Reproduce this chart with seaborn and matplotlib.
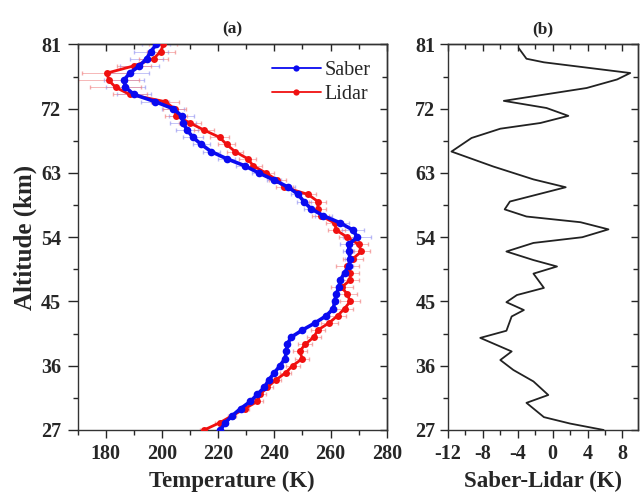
import numpy as np
import pandas as pd
import matplotlib
matplotlib.use("Agg")
import matplotlib.pyplot as plt
from matplotlib.ticker import MultipleLocator
import seaborn as sns

# ---------------- data ----------------
altitude = list(range(27, 82))
saber = [220.8, 222.5, 225, 228, 231.5, 234, 236.5, 238, 240, 242,
         243.8, 244.3, 244.6, 246, 250, 254.5, 258.5, 261, 261.5, 262,
         263, 263.5, 265, 266.5, 267, 266.5, 266.5, 269.5, 268, 263.5,
         257.5, 253, 250.5, 248.5, 245, 240, 234.5, 229.5, 223, 217.5,
         214, 211, 209, 207.5, 207, 204, 197.5, 190, 187, 186.5,
         188.5, 192, 194.5, 196, 198]
lidar = [215, 220.5, 225, 229.5, 234, 235, 237.5, 240.5, 244, 246.5,
         250, 249, 251, 254, 255.5, 259.5, 262.5, 265, 267, 266,
         264, 267, 267, 266, 268, 271, 270, 266, 262, 261.5,
         256.5, 255.5, 255.5, 252, 243.5, 241, 237, 232.5, 230.5, 226,
         223, 220.5, 215, 210, 205, 204.5, 201, 188.5, 183.5, 181,
         180.5, 190, 197, 199.5, 200.5]
saber_err = [0.5, 0.5, 0.5, 0.5, 0.5, 0.5, 0.5, 0.5, 0.5, 0.5,
             0.5, 0.5, 0.5, 0.5, 0.8, 0.8, 0.8, 0.8, 0.8, 0.8,
             1, 1, 1, 1.5, 2, 2, 3, 5, 4, 3,
             3, 2.5, 2.5, 2.5, 2.5, 2.5, 2.5, 3, 3, 3,
             3, 3.5, 4, 4.5, 4.5, 4, 5, 6, 7, 7,
             7, 7, 6, 6, 5]
lidar_err = [1.5, 1.5, 1.5, 1.5, 2, 2, 2, 2, 2, 2.5,
             2.5, 2.5, 2.5, 2.5, 2.5, 3, 3, 3, 3.5, 3.5,
             4, 3, 3, 4, 3.5, 3, 3.5, 3, 3, 3,
             3, 3, 3, 3, 3, 3, 3, 3, 3, 3,
             3, 3.5, 3.5, 4, 4, 4, 5, 6, 9, 11,
             9, 6, 5, 5, 5]

diff_alt = [80.5, 79.0, 78.5, 77.0, 76.1, 74.9, 73.1, 72.1, 71.0, 70.0,
            69.2, 67.9, 66.0, 63.9, 62.1, 61.0, 59.0, 57.9, 56.9, 56.1,
            55.1, 54.0, 53.2, 52.0, 50.8, 49.9, 48.9, 46.9, 45.9, 44.9,
            43.8, 42.9, 40.9, 39.9, 38.0, 36.8, 35.4, 33.8, 31.9, 30.8,
            28.8, 27.9, 27.0]
diff_val = [-3.9, -3.0, -1.0, 8.9, 7.4, 3.9, -5.6, -0.7, 1.8, -1.4,
            -6.0, -9.3, -11.6, -6.8, -2.2, 1.5, -4.9, -5.5, -3.0, 3.2,
            6.4, 3.4, -2.2, -5.3, -2.2, 0.5, -2.2, -1.0, -4.1, -5.3,
            -3.3, -4.7, -5.3, -8.3, -4.7, -6.0, -4.5, -2.2, -0.5, -3.0,
            -1.0, 2.0, 5.85]

y_ticks = [27, 36, 45, 54, 63, 72, 81]
xa_ticks = [180, 200, 220, 240, 260, 280]
xb_ticks = [-12, -8, -4, 0, 4, 8]

# ---------------- style ----------------
sns.set_style("ticks")
plt.rcParams["font.family"] = ["Liberation Serif", "DejaVu Serif"]
plt.rcParams["font.weight"] = "bold"
plt.rcParams["axes.labelweight"] = "bold"
plt.rcParams["axes.titleweight"] = "bold"
plt.rcParams["axes.linewidth"] = 1.0
plt.rcParams["axes.unicode_minus"] = False

df = pd.DataFrame({"alt": altitude, "Saber": saber, "Lidar": lidar,
                   "se": saber_err, "le": lidar_err})
ddf = pd.DataFrame({"alt": diff_alt, "diff": diff_val})

fig = plt.figure(figsize=(6.4, 4.94), dpi=100)
axa = fig.add_axes([0.1214, 0.1296, 0.4828, 0.7804])
axb = fig.add_axes([0.700, 0.1296, 0.2970, 0.7804])

blue = "#0a0af0"
red = "#f01010"

# error bars
axa.errorbar(df["Saber"], df["alt"], xerr=df["se"], fmt="none",
             ecolor="#8c8cf0", elinewidth=0.6, capsize=1.5, alpha=0.6, zorder=1)
axa.errorbar(df["Lidar"], df["alt"], xerr=df["le"], fmt="none",
             ecolor="#f07f7f", elinewidth=0.6, capsize=1.5, alpha=0.65, zorder=1)

sns.lineplot(data=df, x="Lidar", y="alt", sort=False, estimator=None,
             ax=axa, color=red, lw=2.0, marker="o", markersize=5,
             markeredgewidth=0, label="Lidar", zorder=3)
sns.lineplot(data=df, x="Saber", y="alt", sort=False, estimator=None,
             ax=axa, color=blue, lw=2.6, marker="o", markersize=5.5,
             markeredgewidth=0, label="Saber", zorder=4)

handles, labels = axa.get_legend_handles_labels()
order = [labels.index("Saber"), labels.index("Lidar")]
leg = axa.legend([handles[i] for i in order], [labels[i] for i in order],
                 loc="upper right", frameon=False,
                 handlelength=2.4, borderaxespad=0.4, handletextpad=0.2,
                 labelspacing=0.25,
                 prop={"family": ["Liberation Serif"], "weight": "normal", "size": 14.5})
for h in leg.legend_handles:
    h.set_linewidth(1.3)
    h.set_markersize(4.5)

sns.lineplot(data=ddf, x="diff", y="alt", sort=False, estimator=None,
             ax=axb, color="#222222", lw=1.3)

axa.set_xlim(170, 280)
axb.set_xlim(-12, 9.8)
for ax, ticks, minor, ylen, ypad in ((axa, xa_ticks, 10, 7, 5), (axb, xb_ticks, 2, 6, 3)):
    ax.set_ylim(27, 81)
    ax.set_yticks(y_ticks)
    ax.set_xticks(ticks)
    ax.yaxis.set_minor_locator(MultipleLocator(4.5))
    ax.xaxis.set_minor_locator(MultipleLocator(minor))
    ax.tick_params(which="both", direction="out", labelsize=14.5, width=1.0)
    ax.tick_params(axis="x", which="major", length=6, pad=4)
    ax.tick_params(axis="x", which="minor", length=3.5)
    ax.tick_params(axis="y", which="major", length=ylen, pad=ypad)
    ax.tick_params(axis="y", which="minor", length=3.5)
    for lab in ax.get_xticklabels() + ax.get_yticklabels():
        lab.set_fontweight("bold")
    for s in ax.spines.values():
        s.set_visible(True)
        s.set_color("#333333")
    # inward ticks on top and right
    top = ax.secondary_xaxis("top")
    top.set_xticks(ticks)
    top.xaxis.set_minor_locator(MultipleLocator(minor))
    top.tick_params(which="both", direction="in", labeltop=False, width=1.0)
    top.tick_params(which="major", length=5)
    top.tick_params(which="minor", length=3.5)
    right = ax.secondary_yaxis("right")
    right.set_yticks(y_ticks)
    right.yaxis.set_minor_locator(MultipleLocator(4.5))
    right.tick_params(which="both", direction="in", labelright=False, width=1.0)
    right.tick_params(which="major", length=5)
    right.tick_params(which="minor", length=3.5)

axa.set_xlabel("Temperature (K)", fontsize=16.5, labelpad=5)
axa.set_ylabel("Altitude (km)", fontsize=18, labelpad=3)
axb.set_xlabel("Saber-Lidar (K)", fontsize=16.5, labelpad=5)
axb.set_ylabel("")
axa.set_title("(a)", fontsize=12.5, pad=8)
axb.set_title("(b)", fontsize=12.5, pad=8)

fig.savefig("out.png", dpi=100)
